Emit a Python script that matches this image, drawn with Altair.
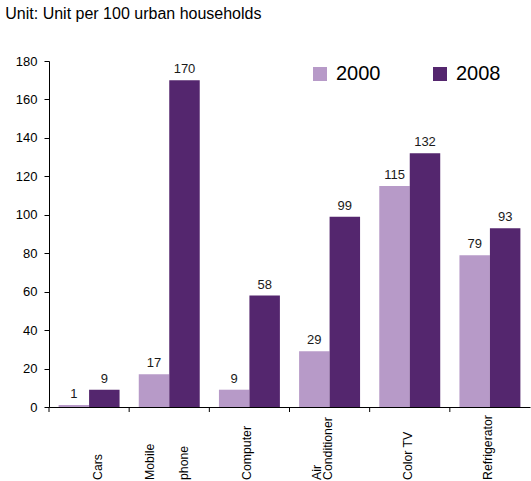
import altair as alt
import pandas as pd

categories = ["Cars", "Mobile phone", "Computer", "Air Conditioner", "Color TV", "Refrigerator"]
years = ["2000", "2008"]
vals_2000 = [1, 17, 9, 29, 115, 79]
vals_2008 = [9, 170, 58, 99, 132, 93]
colors = ["#B79AC8", "#54266E"]

# category label lines, grouped by how they sit across the band (left, centre, right)
lines_far_left = {"Mobile phone": "Mobile"}
lines_left = {"Air Conditioner": "Air"}
lines_centre = {"Computer": "Computer", "Air Conditioner": "Conditioner",
                "Color TV": "Color TV", "Refrigerator": "Refrigerator"}
lines_right = {"Cars": "Cars"}
lines_far_right = {"Mobile phone": "phone"}

rows = []
for c, a, b in zip(categories, vals_2000, vals_2008):
    rows.append({"cat": c, "year": "2000", "value": a})
    rows.append({"cat": c, "year": "2008", "value": b})
df = pd.DataFrame(rows)
cats_df = pd.DataFrame({"cat": categories})

FONT = "Liberation Sans"

y_axis = alt.Axis(values=list(range(0, 181, 20)), grid=False, tickSize=5,
                  tickColor="black", domainColor="black", labelColor="black",
                  labelFontSize=13, labelPadding=7, labelFont=FONT,
                  labelOverlap=False)

x_enc = alt.X(
    "cat:N", sort=categories, title=None,
    scale=alt.Scale(paddingInner=0, paddingOuter=0),
    axis=alt.Axis(labels=False, ticks=False, domainColor="black"),
)

bars = alt.Chart(df).mark_bar().encode(
    x=x_enc,
    xOffset=alt.XOffset("year:N", scale=alt.Scale(paddingOuter=0.315, paddingInner=0)),
    y=alt.Y("value:Q", scale=alt.Scale(domain=[0, 180]), title=None, axis=y_axis),
    color=alt.Color("year:N", scale=alt.Scale(domain=years, range=colors), title=None,
                    legend=alt.Legend(orient="none", legendX=261, legendY=3,
                                      direction="horizontal", symbolType="square",
                                      symbolSize=196, symbolStrokeWidth=0,
                                      labelFontSize=20, labelFont=FONT, labelColor="black",
                                      columnPadding=49, labelOffset=6)),
)

text = alt.Chart(df).mark_text(baseline="alphabetic", dy=-7, fontSize=13, font=FONT, color="#1a1a1a").encode(
    x=alt.X("cat:N", sort=categories),
    xOffset=alt.XOffset("year:N"),
    y=alt.Y("value:Q", axis=y_axis),
    text=alt.Text("value:Q"),
)

ticks = alt.Chart(cats_df).mark_rule(color="black").encode(
    x=alt.X("cat:N", sort=categories, bandPosition=0),
    y=alt.value(346), y2=alt.value(351),
)


def label_layer(mapping, shift):
    d = pd.DataFrame({"cat": list(mapping.keys()), "txt": list(mapping.values())})
    return alt.Chart(d).mark_text(
        angle=270, align="left", baseline="middle", fontSize=12.3, font=FONT,
        color="black", dy=shift,
    ).encode(
        x=alt.X("cat:N", sort=categories),
        y=alt.value(419),
        text="txt:N",
    )


labels = [
    label_layer(lines_far_left, -19),
    label_layer(lines_left, -13),
    label_layer(lines_centre, -2),
    label_layer(lines_right, 9),
    label_layer(lines_far_right, 15),
]

chart = alt.layer(bars, text, ticks, *labels).properties(
    width=481, height=346,
    title=alt.TitleParams("Unit: Unit per 100 urban households", anchor="start", dx=-10,
                          fontSize=16, fontWeight="normal", font=FONT, color="black",
                          baseline="alphabetic", offset=20),
    autosize=alt.AutoSizeParams(type="none"),
    padding={"left": 49, "top": 61, "right": 1, "bottom": 74},
).configure_view(stroke=None).configure_axisY(labelOverlap=False)

chart.save("out.html", embed_options={"renderer": "svg", "actions": False})
